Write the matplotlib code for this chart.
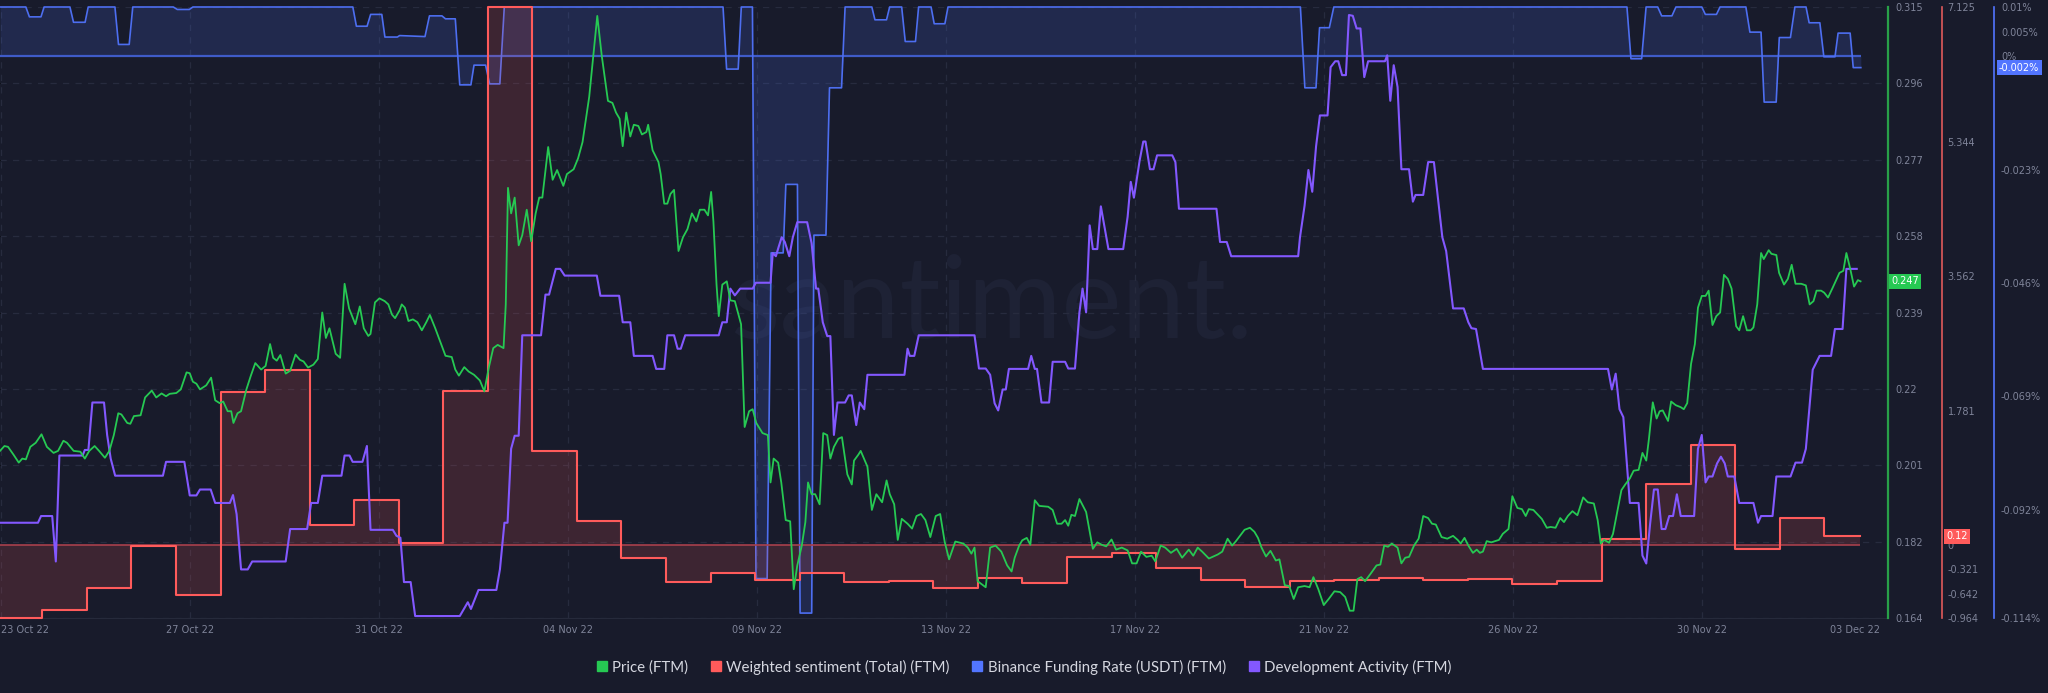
import matplotlib
matplotlib.use('Agg')
import matplotlib.pyplot as plt
from matplotlib.lines import Line2D
from matplotlib import transforms

# ---------------- data (x = days since the left edge of the chart, ~23 Oct 22) -------------
price_day = [
    0.000, 0.100, 0.180, 0.301, 0.421, 0.501, 0.581, 0.681, 0.802, 0.932,
    1.052, 1.202, 1.303, 1.423, 1.503, 1.653, 1.804, 1.904, 2.004, 2.124,
    2.224, 2.355, 2.455, 2.555, 2.655, 2.725, 2.856, 2.926, 3.006, 3.156,
    3.257, 3.407, 3.507, 3.627, 3.727, 3.808, 3.958, 4.058, 4.188, 4.259,
    4.329, 4.409, 4.489, 4.629, 4.739, 4.830, 4.930, 5.010, 5.110, 5.190,
    5.240, 5.331, 5.411, 5.531, 5.631, 5.731, 5.862, 5.962, 6.062, 6.132,
    6.212, 6.293, 6.413, 6.513, 6.633, 6.733, 6.814, 6.914, 7.034, 7.134,
    7.234, 7.315, 7.395, 7.535, 7.635, 7.735, 7.836, 7.976, 8.076, 8.166,
    8.267, 8.317, 8.417, 8.517, 8.637, 8.717, 8.798, 8.868, 8.968, 9.018,
    9.088, 9.168, 9.269, 9.369, 9.469, 9.569, 9.649, 9.770, 9.920, 10.000,
    10.140, 10.220, 10.301, 10.421, 10.521, 10.641, 10.772, 10.872, 10.972, 11.072,
    11.172, 11.303, 11.353, 11.403, 11.473, 11.553, 11.643, 11.723, 11.824, 11.924,
    12.024, 12.104, 12.174, 12.305, 12.405, 12.505, 12.645, 12.725, 12.876, 12.976,
    13.076, 13.226, 13.407, 13.507, 13.647, 13.747, 13.828, 13.908, 13.978, 14.058,
    14.148, 14.228, 14.329, 14.409, 14.509, 14.549, 14.649, 14.780, 14.830, 14.910,
    14.980, 15.050, 15.130, 15.230, 15.331, 15.431, 15.531, 15.631, 15.711,
    15.813, 15.893, 15.963, 16.014, 16.084, 16.134, 16.214, 16.314, 16.394, 16.495,
    16.635, 16.715, 16.815, 16.895, 16.976, 17.116, 17.236, 17.296, 17.366, 17.467,
    17.537, 17.637, 17.737, 17.817, 17.897, 17.998, 18.078, 18.138, 18.218, 18.298,
    18.398, 18.479, 18.569, 18.639, 18.719, 18.819, 18.899, 19.020, 19.120, 19.170,
    19.270, 19.320, 19.471, 19.571, 19.671, 19.801, 19.901, 19.972, 20.072, 20.152,
    20.242, 20.372, 20.473, 20.573, 20.673, 20.773, 20.883, 21.004, 21.104, 21.204,
    21.304, 21.444, 21.625, 21.725, 21.805, 21.875, 21.945, 22.126, 22.226, 22.346,
    22.477, 22.607, 22.707, 22.777, 22.877, 22.947, 23.048, 23.128, 23.228, 23.328,
    23.529, 23.629, 23.729, 23.829, 23.909, 23.979, 24.050, 24.130, 24.230, 24.380,
    24.531, 24.631, 24.731, 24.831, 24.951, 25.052, 25.182, 25.312, 25.412, 25.513,
    25.613, 25.733, 25.853, 25.933, 26.054, 26.154, 26.284, 26.414, 26.535, 26.685,
    26.785, 26.885, 26.985, 27.136, 27.336, 27.436, 27.556, 27.657, 27.737, 27.937,
    28.057, 28.158, 28.238, 28.318, 28.418, 28.518, 28.639, 28.719, 28.839, 28.939,
    29.040, 29.140,
    29.284, 29.396, 29.482, 29.593, 29.714, 29.825, 29.954, 30.083, 30.195, 30.298,
    30.383, 30.469, 30.555, 30.641, 30.770, 30.899, 30.985, 31.071, 31.156, 31.242,
    31.371, 31.457, 31.543, 31.629, 31.741, 31.844, 31.947, 32.058, 32.144, 32.230,
    32.359, 32.488, 32.617, 32.720, 32.788, 32.874, 32.960, 33.063, 33.149, 33.218,
    33.287, 33.372, 33.475, 33.561, 33.647, 33.733, 33.862, 33.948, 34.060, 34.163,
    34.248, 34.317, 34.420, 34.506, 34.609, 34.721, 34.807, 34.918, 35.022, 35.107,
    35.193, 35.296, 35.408, 35.537, 35.640, 35.777, 35.863, 35.932, 36.009, 36.121,
    36.207, 36.310, 36.396, 36.482, 36.585, 36.671, 36.782, 36.868, 36.954, 37.014,
    37.100, 37.186, 37.255, 37.323, 37.443, 37.512, 37.615, 37.727, 37.796, 37.873,
    37.959, 38.045, 38.114, 38.200, 38.285, 38.354, 38.440, 38.526, 38.612, 38.698,
    38.784, 38.869, 38.972, 39.041, 39.127, 39.213, 39.299, 39.359, 39.445, 39.531,
    39.591, 39.702, 39.763, 39.874, 39.935, 40.046, 40.132, 40.218, 40.304, 40.432,
    40.536, 40.621, 40.707, 40.776, 40.879, 40.948, 41.034, 41.137, 41.291, 41.377,
    41.446, 41.532, 41.618, 41.704, 41.764,
]
price_usd = [
    0.2053, 0.2065, 0.2063, 0.2044, 0.2024, 0.2034, 0.2032, 0.2063, 0.2073, 0.2094,
    0.2063, 0.2048, 0.2053, 0.2078, 0.2073, 0.2053, 0.2051, 0.2034, 0.2053, 0.2065,
    0.2053, 0.2036, 0.2053, 0.2092, 0.2146, 0.2143, 0.2122, 0.2120, 0.2139, 0.2141,
    0.2185, 0.2202, 0.2185, 0.2195, 0.2188, 0.2194, 0.2196, 0.2205, 0.2247, 0.2245,
    0.2224, 0.2219, 0.2205, 0.2215, 0.2234, 0.2178, 0.2171, 0.2175, 0.2151, 0.2151,
    0.2122, 0.2146, 0.2151, 0.2205, 0.2239, 0.2270, 0.2254, 0.2263, 0.2317, 0.2283,
    0.2276, 0.2290, 0.2244, 0.2251, 0.2291, 0.2278, 0.2274, 0.2259, 0.2266, 0.2280,
    0.2395, 0.2332, 0.2356, 0.2293, 0.2283, 0.2466, 0.2405, 0.2366, 0.2410, 0.2356,
    0.2337, 0.2342, 0.2420, 0.2430, 0.2423, 0.2415, 0.2390, 0.2381, 0.2400, 0.2415,
    0.2407, 0.2374, 0.2378, 0.2371, 0.2351, 0.2371, 0.2389, 0.2356, 0.2312, 0.2288,
    0.2285, 0.2254, 0.2239, 0.2260, 0.2249, 0.2241, 0.2227, 0.2200, 0.2259, 0.2307,
    0.2315, 0.2307, 0.2415, 0.2703, 0.2640, 0.2679, 0.2561, 0.2586, 0.2649, 0.2571,
    0.2640, 0.2679, 0.2679, 0.2804, 0.2723, 0.2747, 0.2708, 0.2737, 0.2749, 0.2776,
    0.2816, 0.2928, 0.3128, 0.3030, 0.2918, 0.2913, 0.2889, 0.2874, 0.2806, 0.2889,
    0.2830, 0.2859, 0.2856, 0.2835, 0.2841, 0.2859, 0.2796, 0.2767, 0.2737, 0.2664,
    0.2664, 0.2688, 0.2698, 0.2547, 0.2581, 0.2601, 0.2640, 0.2620, 0.2649,
    0.2649, 0.2635, 0.2693, 0.2620, 0.2464, 0.2386, 0.2464, 0.2472, 0.2425, 0.2423,
    0.2366, 0.2112, 0.2151, 0.2156, 0.2122, 0.2097, 0.2092, 0.1975, 0.2034, 0.2024,
    0.1975, 0.1882, 0.1879, 0.1711, 0.1770, 0.1819, 0.1877, 0.1975, 0.1946, 0.1946,
    0.1921, 0.2097, 0.2092, 0.2034, 0.2063, 0.2083, 0.2087, 0.1995, 0.1970, 0.2029,
    0.2044, 0.2053, 0.2014, 0.1907, 0.1946, 0.1926, 0.1980, 0.1946, 0.1921, 0.1833,
    0.1885, 0.1873, 0.1861, 0.1892, 0.1897, 0.1882, 0.1840, 0.1892, 0.1897, 0.1829,
    0.1785, 0.1829, 0.1824, 0.1814, 0.1799, 0.1814, 0.1731, 0.1716, 0.1814, 0.1819,
    0.1804, 0.1770, 0.1755, 0.1789, 0.1819, 0.1832, 0.1838, 0.1821, 0.1931, 0.1917,
    0.1915, 0.1907, 0.1873, 0.1873, 0.1882, 0.1868, 0.1895, 0.1892, 0.1934, 0.1902,
    0.1811, 0.1827, 0.1821, 0.1817, 0.1834, 0.1809, 0.1814, 0.1807, 0.1775, 0.1775,
    0.1804, 0.1791, 0.1794, 0.1780, 0.1819, 0.1814, 0.1801, 0.1811, 0.1789, 0.1809,
    0.1794, 0.1814, 0.1804, 0.1787, 0.1797, 0.1804, 0.1836, 0.1819, 0.1829, 0.1858,
    0.1863, 0.1853, 0.1838, 0.1814, 0.1792, 0.1806, 0.1782, 0.1785, 0.1721, 0.1719,
    0.1687, 0.1716,
    0.1719, 0.1716, 0.1741, 0.1711, 0.1672, 0.1687, 0.1706, 0.1704, 0.1692, 0.1658,
    0.1658, 0.1736, 0.1741, 0.1731, 0.1750, 0.1770, 0.1772, 0.1819, 0.1816, 0.1824,
    0.1814, 0.1775, 0.1789, 0.1791, 0.1819, 0.1836, 0.1892, 0.1887, 0.1873, 0.1871,
    0.1840, 0.1836, 0.1843, 0.1833, 0.1824, 0.1838, 0.1819, 0.1801, 0.1809, 0.1801,
    0.1804, 0.1830, 0.1827, 0.1830, 0.1833, 0.1848, 0.1860, 0.1941, 0.1912, 0.1909,
    0.1892, 0.1909, 0.1907, 0.1897, 0.1885, 0.1863, 0.1865, 0.1863, 0.1887, 0.1877,
    0.1892, 0.1904, 0.1894, 0.1938, 0.1926, 0.1923, 0.1882, 0.1824, 0.1833, 0.1826,
    0.1848, 0.1907, 0.1956, 0.1970, 0.1985, 0.2004, 0.2006, 0.2048, 0.2029, 0.2083,
    0.2173, 0.2133, 0.2151, 0.2153, 0.2127, 0.2175, 0.2166, 0.2161, 0.2156, 0.2171,
    0.2268, 0.2317, 0.2407, 0.2436, 0.2436, 0.2449, 0.2364, 0.2386, 0.2395, 0.2488,
    0.2478, 0.2454, 0.2361, 0.2351, 0.2386, 0.2351, 0.2351, 0.2358, 0.2415, 0.2542,
    0.2527, 0.2549, 0.2540, 0.2537, 0.2493, 0.2464, 0.2478, 0.2513, 0.2466, 0.2466,
    0.2462, 0.2415, 0.2423, 0.2449, 0.2449, 0.2444, 0.2432, 0.2456, 0.2493, 0.2498,
    0.2542, 0.2503, 0.2459, 0.2475, 0.2472,
]

# Weighted sentiment: one value per day (segment starts)
sent_start = [0.0] + [d + 0.95 for d in range(41)]
sent_end = 41.76
sent_val = [
    -0.964, -0.854, -0.572, -0.017, -0.661, 2.025, 2.323, 0.271, 0.596, 0.030,
    2.046, 7.125, 1.250, 0.318, -0.174, -0.488, -0.362, -0.462, -0.362, -0.488,
    -0.478, -0.572, -0.436, -0.499, -0.163, -0.101, -0.300, -0.467, -0.556, -0.478,
    -0.462, -0.436, -0.467, -0.451, -0.519, -0.478, 0.088, 0.805, 1.328, -0.048,
    0.360, 0.120,
]

# Binance funding rate (%)
fund_day = [
    0.00, 0.58, 0.66, 0.92, 0.99, 1.57, 1.65, 1.91, 1.98, 2.58,
    2.66, 2.90, 2.98, 3.89, 3.98, 4.25, 4.33, 7.92, 8.00, 8.24,
    8.32, 8.57, 8.64, 8.92, 8.97, 9.54, 9.64, 9.92, 10.00, 10.22,
    10.32, 10.57, 10.64, 10.90, 10.99, 11.22, 11.32, 16.23, 16.31, 16.57,
    16.64, 16.89, 16.97, 17.22, 17.31, 17.58, 17.64, 17.90, 17.96, 18.22,
    18.27, 18.54, 18.62, 18.89, 18.97, 19.57, 19.64, 19.90, 19.97, 20.24,
    20.32, 20.55, 20.62, 20.90, 20.97, 21.21, 21.28, 29.19, 29.29, 29.54,
    29.62, 29.84, 29.94, 36.52, 36.61, 36.85, 36.95, 37.21, 37.30, 37.53,
    37.62, 38.20, 38.28, 38.53, 38.61, 39.19, 39.28, 39.53, 39.60, 39.87,
    39.94, 40.19, 40.29, 40.54, 40.61, 40.85, 40.94, 41.19, 41.26, 41.53,
    41.60, 41.77,
]
fund_pct = [
    0.0100, 0.0100, 0.0080, 0.0080, 0.0100, 0.0100, 0.0069, 0.0069, 0.0100, 0.0100,
    0.0024, 0.0024, 0.0100, 0.0100, 0.0095, 0.0095, 0.0100, 0.0100, 0.0061, 0.0061,
    0.0085, 0.0085, 0.0039, 0.0039, 0.0042, 0.0040, 0.0082, 0.0082, 0.0076, 0.0076,
    -0.0058, -0.0058, -0.0018, -0.0018, -0.0056, -0.0056, 0.0100, 0.0100, -0.0026, -0.0026,
    0.0100, 0.0100, -0.1060, -0.1060, -0.0399, -0.0399, -0.0260, -0.0260, -0.1130, -0.1130,
    -0.0363, -0.0363, -0.0064, -0.0064, 0.0100, 0.0100, 0.0074, 0.0074, 0.0100, 0.0100,
    0.0030, 0.0030, 0.0100, 0.0100, 0.0066, 0.0066, 0.0100, 0.0100, -0.0064, -0.0064,
    0.0058, 0.0058, 0.0100, 0.0100, -0.0005, -0.0005, 0.0100, 0.0100, 0.0082, 0.0082,
    0.0100, 0.0100, 0.0085, 0.0085, 0.0100, 0.0100, 0.0049, 0.0049, -0.0093, -0.0093,
    0.0038, 0.0038, 0.0100, 0.0100, 0.0068, 0.0068, -0.0001, -0.0001, 0.0047, 0.0047,
    -0.0023, -0.0023,
]

# Development activity (relative units, no axis shown)
dev_day = [
    0.000, 0.852, 0.922, 1.172, 1.253, 1.333, 1.854, 1.904, 1.984, 2.074,
    2.335, 2.405, 2.485, 2.585, 3.657, 3.727, 4.138, 4.259, 4.409, 4.489,
    4.729, 4.830, 5.160, 5.230, 5.311, 5.411, 5.561, 5.661, 6.413, 6.513,
    6.894, 6.984, 7.134, 7.234, 7.665, 7.735, 7.846, 7.916, 8.136, 8.236,
    8.317, 8.818, 8.898, 8.988, 9.068, 9.218, 9.319, 10.321, 10.501, 10.571,
    10.641, 10.741, 11.142, 11.222, 11.323, 11.393, 11.473, 11.553, 11.643, 11.723,
    12.144, 12.244, 12.325, 12.475, 12.575, 12.675, 13.397, 13.477, 13.898, 13.978,
    14.148, 14.228, 14.649, 14.729, 14.910, 14.980, 15.130, 15.210, 15.281, 15.381,
    15.711,
    16.134, 16.214, 16.314, 16.394, 16.495, 16.615, 16.895, 16.966, 17.296, 17.346,
    17.416, 17.477, 17.547, 17.617, 17.717, 17.797, 17.897, 18.118, 18.218, 18.318,
    18.368, 18.469, 18.569, 18.639, 18.719, 18.799, 18.970, 19.050, 19.120, 19.220,
    19.300, 19.400, 19.471, 20.302, 20.372, 20.422, 20.523, 20.623, 21.875, 21.975,
    22.126, 22.226, 22.326, 22.406, 22.507, 22.577, 22.647, 23.078, 23.148, 23.228,
    23.278, 23.378, 23.549, 23.629, 23.909, 23.979, 24.130, 24.230, 24.300, 24.380,
    24.460, 24.531, 24.631, 24.711, 24.881, 25.212, 25.312, 25.382, 25.453, 25.583,
    25.663, 25.713, 25.813, 25.893, 25.973, 26.314, 26.384, 26.464, 27.306, 27.386,
    27.537, 27.637, 29.140,
    29.181, 29.284, 29.370, 29.456, 29.542, 29.628, 29.799, 29.868, 29.971, 30.040,
    30.126, 30.212, 30.280, 30.366, 30.452, 30.538, 30.624, 30.710, 31.088, 31.139,
    31.208, 31.285, 31.371, 31.457, 31.629, 31.715, 31.775, 31.947, 32.058, 32.187,
    32.376, 32.462, 32.617, 32.857, 32.960, 33.029, 33.132, 33.287, 36.095, 36.181,
    36.267, 36.353, 36.439, 36.585, 36.782, 36.868, 36.954, 37.040, 37.126, 37.212,
    37.298, 37.383, 37.469, 37.555, 37.641, 37.727, 38.028, 38.114, 38.200, 38.285,
    38.354, 38.440, 38.543, 38.629, 38.715, 38.784, 38.930, 39.041, 39.359, 39.462,
    39.531, 39.788, 39.874, 40.192, 40.304, 40.449, 40.536, 40.690, 40.845, 41.102,
    41.188, 41.360, 41.446, 41.678,
]
dev_val = [
    15.59, 15.59, 16.69, 16.69, 9.25, 26.59, 26.59, 27.50, 27.50, 35.27,
    35.27, 29.96, 26.08, 23.29, 23.29, 25.56, 25.56, 20.06, 20.06, 21.03,
    21.03, 18.83, 18.83, 20.12, 17.01, 7.95, 7.95, 9.25, 9.25, 14.56,
    14.56, 18.83, 18.83, 23.29, 23.29, 26.59, 26.59, 25.56, 25.56, 28.15,
    14.43, 14.43, 13.46, 13.13, 5.88, 5.88, 0.32, 0.32, 2.58, 1.48,
    2.77, 4.59, 4.59, 7.95, 15.59, 15.59, 27.69, 29.83, 29.83, 46.27,
    46.27, 52.93, 52.93, 57.14, 57.14, 56.04, 56.04, 52.74, 52.74, 48.40,
    48.40, 42.90, 42.90, 40.77, 40.77, 46.27, 46.27, 44.07, 44.07, 46.27,
    46.27,
    46.27, 48.40, 48.40, 53.91, 52.80, 53.91, 53.91, 54.87, 54.87, 59.73,
    59.21, 60.70, 62.32, 61.54, 59.21, 62.32, 64.78, 64.78, 61.35, 53.91,
    53.91, 48.40, 46.14, 46.14, 29.96, 35.27, 35.27, 36.43, 36.43, 31.58,
    35.27, 34.17, 39.80, 39.80, 44.07, 42.90, 42.90, 46.27, 46.27, 40.83,
    40.83, 39.80, 35.14, 33.97, 37.40, 37.40, 40.77, 40.77, 42.90, 40.77,
    40.77, 35.27, 35.27, 41.93, 41.93, 40.83, 40.83, 50.02, 53.91, 50.02,
    64.26, 60.38, 60.38, 67.37, 60.38, 60.38, 65.68, 71.38, 68.79, 74.94,
    77.98, 77.98, 73.45, 73.45, 75.72, 75.72, 74.62, 66.98, 66.98, 61.54,
    61.54, 59.21, 59.21,
    62.32, 67.50, 73.32, 69.76, 77.20, 82.25, 82.25, 90.15, 91.12, 91.12,
    88.85, 88.85, 98.69, 98.56, 96.49, 96.49, 88.53, 91.12, 91.12, 92.09,
    84.65, 90.47, 86.91, 73.45, 73.45, 68.14, 69.24, 69.24, 74.62, 74.62,
    62.32, 60.05, 50.67, 50.67, 48.40, 47.43, 47.30, 40.77, 40.77, 37.40,
    39.99, 34.17, 32.87, 18.83, 18.83, 10.22, 8.92, 15.40, 21.03, 21.03,
    14.56, 14.56, 16.69, 16.69, 20.25, 16.69, 16.69, 27.69, 29.96, 22.19,
    23.16, 23.16, 25.30, 26.40, 25.30, 23.16, 23.16, 18.83, 18.83, 15.59,
    16.69, 16.69, 23.16, 23.16, 25.43, 25.43, 27.69, 40.64, 42.90, 42.90,
    47.30, 47.30, 57.14, 57.14,
]

# axes / ticks
x_max = 42.38
x_tick_pos = [0.022, 4.265, 8.507, 12.75, 16.99, 21.23, 25.48, 29.72, 33.96, 38.21]
x_tick_labels = ['23 Oct 22', '27 Oct 22', '31 Oct 22', '04 Nov 22', '09 Nov 22',
                 '13 Nov 22', '17 Nov 22', '21 Nov 22', '26 Nov 22', '30 Nov 22']
x_last_pos = 41.64
x_last_label = '03 Dec 22'

price_lim = (0.164, 0.315)
price_ticks = [0.164, 0.182875, 0.20175, 0.220625, 0.2395, 0.258375, 0.27725, 0.296125, 0.315]
price_tick_labels = ['0.164', '0.182', '0.201', '0.22', '0.239', '0.258', '0.277', '0.296', '0.315']
sent_lim = (-0.964, 7.125)
sent_ticks = [7.125, 5.344, 3.562, 1.781, 0, -0.321, -0.642, -0.964]
sent_tick_labels = ['7.125', '5.344', '3.562', '1.781', '0', '-0.321', '-0.642', '-0.964']
fund_lim = (-0.114, 0.010)
fund_ticks = [0.01, 0.005, 0, -0.023, -0.046, -0.069, -0.092, -0.114]
fund_tick_labels = ['0.01%', '0.005%', '0%', '-0.023%', '-0.046%', '-0.069%', '-0.092%', '-0.114%']
dev_lim = (0, 100)

series_names = ['Price (FTM)', 'Weighted sentiment (Total) (FTM)',
                'Binance Funding Rate (USDT) (FTM)', 'Development Activity (FTM)']

# ---------------- style ----------------
BG = '#181b2b'
GRID = '#272b3e'
TICK = '#7f8499'
C_PRICE = '#26c953'
C_SENT = '#ff5b5b'
C_FUND = '#5275ff'
C_DEV = '#8358ff'

plt.rcParams['font.family'] = ['DejaVu Sans']

fig = plt.figure(figsize=(20.48, 6.93), dpi=100, facecolor=BG)
rect = [0.0, 75 / 693, 1888 / 2048, 611 / 693]
ax0 = fig.add_axes(rect)
ax0.set_facecolor(BG)
ax0.set_xlim(0, x_max)
ax0.set_ylim(*price_lim)
ax0.set_yticks(price_ticks)
ax0.tick_params(axis='y', left=False, labelleft=False, right=False)
ax0.set_xticks(x_tick_pos, x_tick_labels)
ax0.set_xticks([x_last_pos], [x_last_label], minor=True)
ax0.tick_params(axis='x', which='both', length=0, pad=5, labelsize=7, labelcolor=TICK)
ax0.get_xticklabels()[0].set_horizontalalignment('left')
ax0.grid(True, which='major', color=GRID, linestyle=(0, (5, 5)), linewidth=0.9)
for s in ['left', 'right', 'top']:
    ax0.spines[s].set_visible(False)
ax0.spines['bottom'].set_color('#262a3b')
ax0.text(992 / 1888, 0.458, 'santiment.', transform=ax0.transAxes, fontsize=82,
         family=['Lato', 'DejaVu Sans'], fontweight='normal',
         color='#1e2235', ha='center', va='baseline', zorder=0)


def make_twin():
    a = ax0.twinx()
    a.set_xlim(0, x_max)
    a.patch.set_visible(False)
    for s in ['left', 'top', 'bottom']:
        a.spines[s].set_visible(False)
    return a


axf = make_twin()
axs = make_twin()
axd = make_twin()
axp = make_twin()

# funding
axf.set_ylim(*fund_lim)
axf.fill_between(fund_day, fund_pct, 0, color=C_FUND, alpha=0.16, linewidth=0)
axf.hlines(0, fund_day[0], fund_day[-1], color='#3f5bc8', lw=1.6)
axf.plot(fund_day, fund_pct, color='#4d6ef0', lw=1.2, clip_on=False)
axf.spines['right'].set_position(('axes', 1994 / 1888))
axf.spines['right'].set_color(C_FUND)
axf.spines['right'].set_linewidth(1.2)
axf.set_yticks(fund_ticks, fund_tick_labels)
axf.tick_params(axis='y', length=0, pad=5, labelsize=7, labelcolor=TICK)

# sentiment
sx = sent_start + [sent_end]
sy = sent_val + [sent_val[-1]]
axs.set_ylim(*sent_lim)
axs.fill_between(sx, sy, 0, step='post', color=C_SENT, alpha=0.16, linewidth=0)
axs.hlines(0, sx[0], sx[-1], color='#a8404c', lw=1.2)
axs.step(sx, sy, where='post', color=C_SENT, lw=1.5, clip_on=False)
axs.spines['right'].set_position(('axes', 1942 / 1888))
axs.spines['right'].set_color('#e05a5a')
axs.spines['right'].set_linewidth(1.2)
axs.set_yticks(sent_ticks, sent_tick_labels)
axs.tick_params(axis='y', length=0, pad=4, labelsize=7, labelcolor=TICK)

# development activity
axd.set_ylim(*dev_lim)
axd.plot(dev_day, dev_val, color=C_DEV, lw=1.5)
axd.set_yticks([])
axd.spines['right'].set_visible(False)

# price
axp.set_ylim(*price_lim)
axp.plot(price_day, price_usd, color=C_PRICE, lw=1.3)
axp.spines['right'].set_color('#28a048')
axp.spines['right'].set_linewidth(1.6)
axp.set_yticks(price_ticks, price_tick_labels)
axp.tick_params(axis='y', length=0, pad=5, labelsize=7, labelcolor=TICK)

# last-value tags
tp = transforms.blended_transform_factory(axp.transAxes, axp.transData)
axp.text(1891 / 1888, price_usd[-1], '%.3f' % price_usd[-1], transform=tp, ha='left', va='center',
         fontsize=7, color='white', bbox=dict(boxstyle='square,pad=0.25', fc=C_PRICE, ec='none'))
ts = transforms.blended_transform_factory(axs.transAxes, axs.transData)
axs.text(1946 / 1888, sent_val[-1], '%.2f' % sent_val[-1], transform=ts, ha='left', va='center',
         fontsize=7, color='white', bbox=dict(boxstyle='square,pad=0.25', fc=C_SENT, ec='none'))
tf = transforms.blended_transform_factory(axf.transAxes, axf.transData)
axf.text(1999 / 1888, fund_pct[-1], '%.3f%%' % fund_pct[-1], transform=tf, ha='left', va='center',
         fontsize=7, color='white', bbox=dict(boxstyle='square,pad=0.25', fc=C_FUND, ec='none'))

# legend
handles = [Line2D([], [], marker='s', ls='', color=c, markersize=6.5)
           for c in [C_PRICE, C_SENT, C_FUND, C_DEV]]
fig.legend(handles, series_names, loc='center', bbox_to_anchor=(1024 / 2048, 26 / 693), ncol=4,
           frameon=False, prop={'family': ['Lato', 'DejaVu Sans'], 'size': 10.8},
           labelcolor='#d5d7e0', handletextpad=0.35, columnspacing=1.5, handlelength=0.7)

fig.savefig('out.png', dpi=100, facecolor=BG)
